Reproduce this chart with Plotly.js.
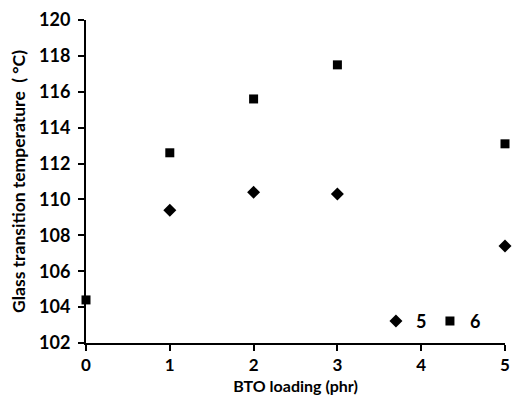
<!DOCTYPE html>
<html>
<head>
<meta charset="utf-8">
<script src="https://cdn.plot.ly/plotly-3.0.1.min.js"></script>
<style>html,body{margin:0;padding:0;background:#fff;}#chart{width:513px;height:395px;}</style>
</head>
<body>
<div id="chart"></div>
<script>
// BTO loading (phr) and glass transition temperatures (°C)
const loading5 = [1, 2, 3, 5];
const tg5 = [109.4, 110.4, 110.3, 107.4];
const loading6 = [0, 1, 2, 3, 5];
const tg6 = [104.4, 112.6, 115.6, 117.5, 113.1];
const xTicks = [0, 1, 2, 3, 4, 5];
const yTicks = [102, 104, 106, 108, 110, 112, 114, 116, 118, 120];

const FONT = "Lato, Open Sans, sans-serif";

const traces = [
  {
    x: loading5, y: tg5, name: "5", type: "scatter", mode: "markers",
    marker: {symbol: "diamond", size: 10, color: "#000"}, cliponaxis: false
  },
  {
    x: loading6, y: tg6, name: "6", type: "scatter", mode: "markers",
    marker: {symbol: "square", size: 9, color: "#000"}, cliponaxis: false
  }
];

const layout = {
  width: 513, height: 395,
  margin: {l: 86, r: 8, t: 20, b: 52},
  paper_bgcolor: "#fff", plot_bgcolor: "#fff",
  font: {family: FONT, color: "#000", size: 17, weight: "bold"},
  showlegend: true,
  legend: {
    orientation: "h", x: 0.692, y: 0.01, xanchor: "left", yanchor: "bottom",
    font: {family: FONT, size: 18, weight: "bold", color: "#000"},
    bgcolor: "rgba(0,0,0,0)", entrywidth: 9, entrywidthmode: "pixels", tracegroupgap: 0
  },
  xaxis: {
    range: [0, 5], tickvals: xTicks, ticktext: xTicks.map(String),
    showgrid: false, zeroline: false, showline: true, linecolor: "#000", linewidth: 2,
    ticks: "outside", ticklen: 6, tickwidth: 2, tickcolor: "#000",
    tickfont: {family: FONT, size: 17, weight: "bold"},
    title: {text: "BTO loading (phr)", font: {family: FONT, size: 16, weight: "bold"}}
  },
  yaxis: {
    range: [102, 120], tickvals: yTicks, ticktext: yTicks.map(String),
    showgrid: false, zeroline: false, showline: true, linecolor: "#000", linewidth: 2,
    ticks: "outside", ticklen: 6, tickwidth: 2, tickcolor: "#000",
    ticklabelstandoff: 4,
    tickfont: {family: FONT, size: 18, weight: "bold"},
    title: {text: "Glass transition temperature  ( °C)", standoff: 9, font: {family: FONT, size: 17.5, weight: "bold"}}
  }
};

Plotly.newPlot("chart", traces, layout, {staticPlot: true, displayModeBar: false});
</script>
</body>
</html>
